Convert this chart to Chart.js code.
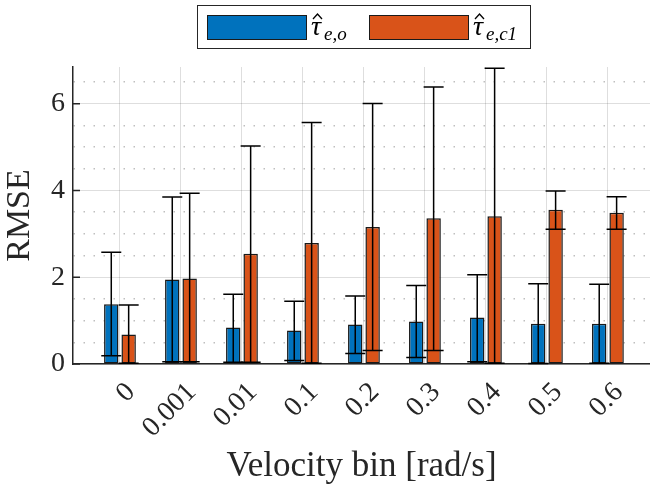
<!DOCTYPE html>
<html>
<head>
<meta charset="utf-8">
<script src="https://cdn.jsdelivr.net/npm/chart.js@4"></script>
<style>
  body { margin: 0; background: #fff; }
  #wrap { width: 650px; height: 488px; }
</style>
</head>
<body>
<div id="wrap"><canvas id="rmseChart"></canvas></div>
<script>
  // velocity bins and RMSE values (bar height, error bar low/high)
  const bins = ['0', '0.001', '0.01', '0.1', '0.2', '0.3', '0.4', '0.5', '0.6'];
  const rmseObs = [1.38, 1.95, 0.84, 0.77, 0.91, 0.98, 1.07, 0.93, 0.93];
  const obsLow  = [0.19, 0.05, 0.04, 0.08, 0.24, 0.15, 0.05, 0.01, 0.02];
  const obsHigh = [2.58, 3.85, 1.61, 1.45, 1.57, 1.81, 2.06, 1.85, 1.84];
  const rmseC1  = [0.68, 1.97, 2.54, 2.79, 3.16, 3.36, 3.41, 3.56, 3.49];
  const c1Low   = [0.02, 0.05, 0.04, 0.02, 0.31, 0.31, 0.02, 3.11, 3.11];
  const c1High  = [1.36, 3.94, 5.03, 5.57, 6.01, 6.39, 6.82, 3.99, 3.86];
  const yTicks  = [0, 2, 4, 6];

  const serif = '"Liberation Serif", "Times New Roman", serif';
  const lows = [obsLow, c1Low];
  const highs = [obsHigh, c1High];

  // error bars on top of the bars
  const errorBars = {
    id: 'errorBars',
    afterDatasetsDraw(chart) {
      const c = chart.ctx, y = chart.scales.y;
      c.save();
      c.strokeStyle = '#000';
      c.lineWidth = 1.5;
      chart.data.datasets.forEach((ds, di) => {
        chart.getDatasetMeta(di).data.forEach((bar, i) => {
          const x = bar.x;
          const y0 = y.getPixelForValue(lows[di][i]);
          const y1 = y.getPixelForValue(highs[di][i]);
          c.beginPath();
          c.moveTo(x, y0); c.lineTo(x, y1);
          c.moveTo(x - 10, y0); c.lineTo(x + 10, y0);
          c.moveTo(x - 10, y1); c.lineTo(x + 10, y1);
          c.stroke();
        });
      });
      // inner tick marks on the y axis
      const left = chart.chartArea.left;
      c.strokeStyle = '#262626';
      c.beginPath();
      yTicks.forEach(v => {
        const py = y.getPixelForValue(v);
        c.moveTo(left, py); c.lineTo(left + 7, py);
      });
      c.stroke();
      c.restore();
    }
  };

  function drawTau(c, x, base, sub) {
    c.fillStyle = '#000';
    c.font = 'italic 28px ' + serif;
    c.fillText('\u03c4', x, base);
    c.strokeStyle = '#000';
    c.lineWidth = 1.3;
    c.beginPath();
    c.moveTo(x + 2, base - 16);
    c.lineTo(x + 6.5, base - 21);
    c.lineTo(x + 11, base - 16);
    c.stroke();
    c.font = 'italic 19px ' + serif;
    c.fillText(sub, x + 13, base + 5);
  }

  // boxed legend at the top
  const legendBox = {
    id: 'legendBox',
    afterDraw(chart) {
      const c = chart.ctx;
      c.save();
      c.fillStyle = '#fff';
      c.fillRect(197, 5, 334, 44);
      c.strokeStyle = '#262626';
      c.lineWidth = 1;
      c.strokeRect(197.5, 5.5, 333, 43);
      const items = [[207, 'e,o'], [369, 'e,c1']];
      chart.data.datasets.forEach((ds, i) => {
        const x = items[i][0];
        c.fillStyle = ds.backgroundColor;
        c.fillRect(x, 15, 100, 25);
        c.strokeStyle = '#1a1a1a';
        c.lineWidth = 1;
        c.strokeRect(x + 0.5, 15.5, 99, 24);
        drawTau(c, x + 104, 35, items[i][1]);
      });
      c.restore();
    }
  };

  const ctx = document.getElementById('rmseChart').getContext('2d');
  new Chart(ctx, {
    type: 'bar',
    data: {
      datasets: [{
        label: 'tau_e,o',
        data: rmseObs.map((v, i) => ({ x: i + 1, y: v })),
        backgroundColor: '#0072BD',
        borderColor: '#1a1a1a',
        borderWidth: 1.5,
        borderSkipped: false
      }, {
        label: 'tau_e,c1',
        data: rmseC1.map((v, i) => ({ x: i + 1, y: v })),
        backgroundColor: '#D95319',
        borderColor: '#1a1a1a',
        borderWidth: 1.5,
        borderSkipped: false
      }]
    },
    options: {
      responsive: true,
      maintainAspectRatio: false,
      animation: false,
      categoryPercentage: 0.57,
      barPercentage: 0.83,
      layout: { padding: { top: 67, right: 0, left: 0, bottom: 0 } },
      plugins: { legend: { display: false }, tooltip: { enabled: false } },
      scales: {
        x: {
          type: 'linear',
          min: 0.23,
          max: 9.69,
          offset: false,
          afterFit: s => { s.height = 124; s.paddingLeft = 0; s.paddingRight = 0; },
          ticks: {
            stepSize: 1,
            includeBounds: false,
            autoSkip: false,
            minRotation: 45,
            maxRotation: 45,
            padding: 12,
            labelOffset: 11,
            color: '#262626',
            font: { family: serif, size: 28 },
            callback: v => bins[Math.round(v) - 1]
          },
          grid: { offset: false, color: 'rgba(0,0,0,0.13)', lineWidth: 1, drawTicks: false },
          border: { color: '#262626', width: 1.5 },
          title: {
            display: true,
            text: 'Velocity bin [rad/s]',
            color: '#262626',
            font: { family: serif, size: 35 },
            padding: { top: 0, bottom: 0 }
          }
        },
        y: {
          min: 0,
          max: 6.85,
          afterFit: s => { s.width = 73; },
          ticks: {
            stepSize: 0.5,
            includeBounds: false,
            autoSkip: false,
            padding: 8,
            color: '#262626',
            font: { family: serif, size: 28 },
            callback: v => (yTicks.includes(v) ? v : '')
          },
          grid: {
            drawTicks: false,
            color: c => (yTicks.includes(c.tick.value) ? 'rgba(0,0,0,0.13)' : 'rgba(0,0,0,0.25)'),
            lineWidth: c => (yTicks.includes(c.tick.value) ? 1 : 1.5)
          },
          border: {
            color: '#262626',
            width: 1.5,
            dash: c => (c.tick && !yTicks.includes(c.tick.value) ? [1.5, 8.5] : [])
          },
          title: {
            display: true,
            text: 'RMSE',
            color: '#262626',
            font: { family: serif, size: 34 },
            padding: { top: 0, bottom: 2 }
          }
        }
      }
    },
    plugins: [errorBars, legendBox]
  });
</script>
</body>
</html>
